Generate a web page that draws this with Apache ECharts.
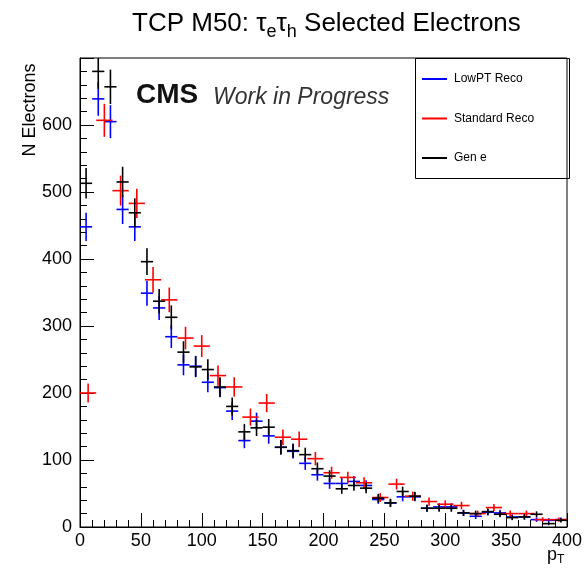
<!DOCTYPE html>
<html><head><meta charset="utf-8">
<script src="https://cdn.jsdelivr.net/npm/echarts@6/dist/echarts.min.js"></script>
<style>html,body{margin:0;padding:0;background:#fff}#c{width:588px;height:571px}</style>
</head><body><div id="c"></div>
<script>
// Bin centres: 40 bins (LowPT Reco, Gen e), 30 bins (Standard Reco)
const centers40 = [5,15,25,35,45,55,65,75,85,95,105,115,125,135,145,155,165,175,185,195,
  205,215,225,235,245,255,265,275,285,295,305,315,325,335,345,355,365,375,385,395];
const centers30 = [6.67,20,33.33,46.67,60,73.33,86.67,100,113.33,126.67,140,153.33,166.67,180,193.33,
  206.67,220,233.33,246.67,260,273.33,286.67,300,313.33,326.67,340,353.33,366.67,380,393.33];
const halfWidth40 = 5;
const halfWidth30 = 6.667;

const lowPtReco = [448,639,605,474,448,349,327,284,242,240,216,208,173,129,158,136,119,113,95,78,
  65,65,68,62,41,36,45,45,28,30,30,21,16,22,21,15,15,11,10,11];
const genE = [513,680,657,515,469,396,337,313,261,239,235,209,180,142,148,149,119,114,108,87,
  76,57,62,58,43,36,53,46,28,28,28,21,20,23,19,14,15,19,5,10];
const standardReco = [200,607,502,483,369,339,282,270,226,209,164,185,134,131,102,
  81,74,66,44,64,46,38,34,32,20,29,20,20,11,11];

const xTicks = [0,50,100,150,200,250,300,350,400];
const yTicks = [0,100,200,300,400,500,600];

function zip(xs, ys){ return xs.map((x,i)=>[x, ys[i]]); }

function crossRenderer(color, halfW){
  return function(params, api){
    const x = api.value(0), y = api.value(1), e = Math.sqrt(y);
    const c = api.coord([x, y]);
    const l = api.coord([x - halfW, y]);
    const r = api.coord([x + halfW, y]);
    const t = api.coord([x, y + e]);
    const b = api.coord([x, Math.max(0, y - e)]);
    return {type:'group', children:[
      {type:'line', shape:{x1:l[0], y1:c[1], x2:r[0], y2:c[1]}, style:{stroke:color, lineWidth:1.6}},
      {type:'line', shape:{x1:c[0], y1:t[1], x2:c[0], y2:b[1]}, style:{stroke:color, lineWidth:1.6}}
    ]};
  };
}

const FONT = 'Liberation Sans';
const chart = echarts.init(document.getElementById('c'), null, {renderer:'canvas'});
chart.setOption({
  animation:false,
  backgroundColor:'#fff',
  textStyle:{fontFamily:FONT},
  title:{
    text:'{a|TCP M50: τ}{s|e}{a|τ}{s|h}{a| Selected Electrons}',
    left:127, top:1,
    textStyle:{
      fontWeight:'normal',
      rich:{
        a:{fontFamily:FONT, fontSize:26, fontWeight:'normal', color:'#000', lineHeight:35},
        s:{fontFamily:FONT, fontSize:18, fontWeight:'normal', color:'#000', lineHeight:20, verticalAlign:'bottom'}
      }
    }
  },
  grid:{left:80, right:21, top:58, bottom:44, show:true, borderColor:'#000', borderWidth:1, backgroundColor:'transparent'},
  xAxis:{
    type:'value', min:0, max:400, interval:50,
    axisLine:{show:true, onZero:false, lineStyle:{color:'#000', width:1}},
    axisTick:{show:true, inside:true, length:14, lineStyle:{color:'#000', width:1}},
    minorTick:{show:true, splitNumber:5, length:7, lineStyle:{color:'#000', width:1}},
    axisLabel:{color:'#000', fontSize:18, fontFamily:FONT, margin:5,
      formatter:v=> xTicks.indexOf(v) >= 0 ? String(v) : ''},
    splitLine:{show:false}
  },
  yAxis:{
    type:'value', min:0, max:700, interval:100,
    axisLine:{show:true, lineStyle:{color:'#000', width:1}},
    axisTick:{show:true, inside:true, length:14, lineStyle:{color:'#000', width:1}},
    minorTick:{show:true, splitNumber:5, length:7, lineStyle:{color:'#000', width:1}},
    axisLabel:{color:'#000', fontSize:18, fontFamily:FONT, margin:8,
      formatter:v=> yTicks.indexOf(v) >= 0 ? String(v) : ''},
    splitLine:{show:false}
  },
  legend:{
    orient:'vertical', left:422, top:73, padding:0, itemGap:27.5,
    itemWidth:25, itemHeight:2, icon:'rect',
    textStyle:{fontFamily:FONT, fontSize:12, color:'#000', padding:[0,0,0,2]},
    data:['LowPT Reco','Standard Reco','Gen e']
  },
  graphic:[
    {type:'rect', left:415, top:58, shape:{width:154, height:120}, style:{fill:'#fff', stroke:'#000', lineWidth:1}, z:-1, zlevel:0},
    {type:'text', left:136, top:81, style:{text:'CMS', fontFamily:FONT, fontWeight:'bold', fontSize:28, fill:'#111'}},
    {type:'text', left:213, top:86, style:{text:'Work in Progress', fontFamily:FONT, fontStyle:'italic', fontSize:23, fill:'#333'}},
    {type:'text', x:30, y:110, rotation:Math.PI/2, style:{text:'N Electrons', fontFamily:FONT, fontSize:18, fill:'#000', align:'center', verticalAlign:'middle'}},
    {type:'text', left:547, top:546, style:{
      text:'{a|p}{s|T}',
      rich:{a:{fontFamily:FONT, fontSize:18, fill:'#000', lineHeight:22}, s:{fontFamily:FONT, fontSize:12, fill:'#000', lineHeight:14, verticalAlign:'bottom'}}
    }}
  ],
  series:[
    {name:'LowPT Reco', type:'custom', clip:true, itemStyle:{color:'#0000ff'},
      renderItem:crossRenderer('#0000ff', halfWidth40), data:zip(centers40, lowPtReco), encode:{x:0,y:1}},
    {name:'Standard Reco', type:'custom', clip:true, itemStyle:{color:'#ff0000'},
      renderItem:crossRenderer('#ff0000', halfWidth30), data:zip(centers30, standardReco), encode:{x:0,y:1}},
    {name:'Gen e', type:'custom', clip:true, itemStyle:{color:'#000000'},
      renderItem:crossRenderer('#000000', halfWidth40), data:zip(centers40, genE), encode:{x:0,y:1}}
  ]
});
</script></body></html>
